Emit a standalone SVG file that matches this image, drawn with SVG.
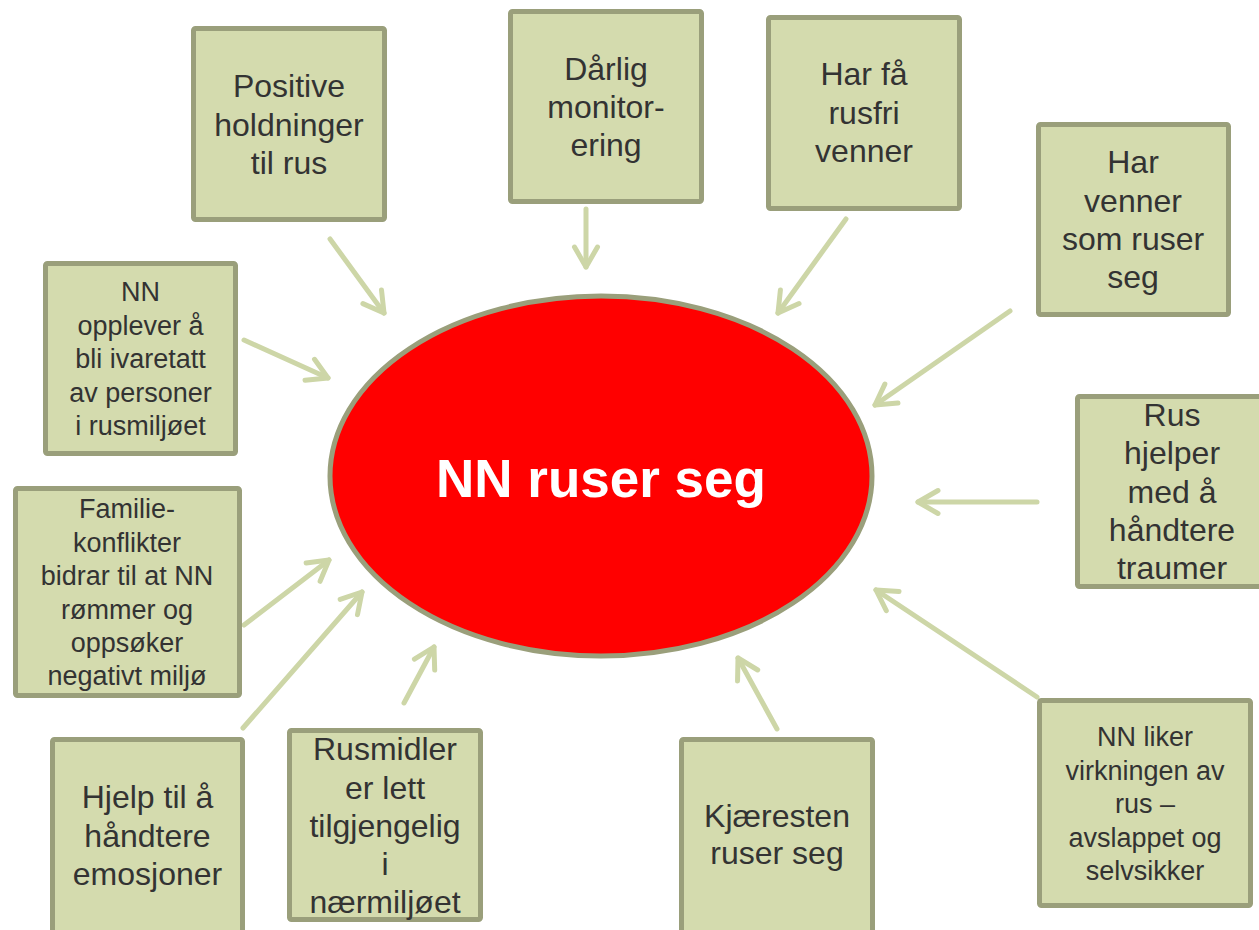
<svg xmlns="http://www.w3.org/2000/svg" width="1259" height="930" viewBox="0 0 1259 930">
<style>
.box{fill:#d4dbae;stroke:#9a9f7b;stroke-width:5}
.t{font-family:"Liberation Sans",Arial,sans-serif;fill:#333333;text-anchor:middle}
.l{font-size:32px}
.s{font-size:27px}
.arr{fill:none;stroke:#cdd6a7;stroke-width:5;stroke-linecap:round;marker-end:url(#ah)}
</style>
<defs>
<marker id="ah" markerUnits="userSpaceOnUse" markerWidth="40" markerHeight="40" viewBox="-25 -20 30 40" refX="0" refY="0" orient="auto" overflow="visible">
<path d="M-20,-11.5 L0,0 L-20,11.5" fill="none" stroke="#cdd6a7" stroke-width="5" stroke-linecap="round" stroke-linejoin="round"/>
</marker>
</defs>
<rect width="1259" height="930" fill="#ffffff"/>
<g id="connectors">
<line class="arr" x1="330" y1="239" x2="384" y2="313"/>
<line class="arr" x1="586" y1="209" x2="586" y2="267"/>
<line class="arr" x1="846" y1="219" x2="778" y2="313"/>
<line class="arr" x1="1010" y1="311" x2="875" y2="405"/>
<line class="arr" x1="244" y1="340" x2="328" y2="378"/>
<line class="arr" x1="1037" y1="502" x2="918" y2="502"/>
<line class="arr" x1="244" y1="625" x2="329" y2="560"/>
<line class="arr" x1="243" y1="728" x2="362" y2="592"/>
<line class="arr" x1="404" y1="703" x2="434" y2="647"/>
<line class="arr" x1="777" y1="729" x2="738" y2="658"/>
<line class="arr" x1="1037" y1="697" x2="876" y2="590"/>
</g>
<g id="center">
<ellipse cx="601" cy="476" rx="271" ry="180" fill="#ff0000" stroke="#9a9f7b" stroke-width="5"/>
<text x="601" y="497" font-family="Liberation Sans,Arial,sans-serif" font-weight="bold" font-size="53" fill="#ffffff" text-anchor="middle">NN ruser seg</text>
</g>
<g id="n1">
<rect class="box" x="193.5" y="28.5" width="191" height="191" rx="2"/>
<text class="t l"><tspan x="289" y="97">Positive</tspan><tspan x="289" y="135.5">holdninger</tspan><tspan x="289" y="174">til rus</tspan></text>
</g>
<g id="n2">
<rect class="box" x="510.5" y="11.5" width="191" height="190" rx="2"/>
<text class="t l"><tspan x="606" y="80">Dårlig</tspan><tspan x="606" y="118">monitor-</tspan><tspan x="606" y="156">ering</tspan></text>
</g>
<g id="n3">
<rect class="box" x="768.5" y="17.5" width="191" height="191" rx="2"/>
<text class="t l"><tspan x="864" y="85">Har få</tspan><tspan x="864" y="124">rusfri</tspan><tspan x="864" y="162">venner</tspan></text>
</g>
<g id="n4">
<rect class="box" x="1038.5" y="124.5" width="190" height="190" rx="2"/>
<text class="t l"><tspan x="1133" y="173">Har</tspan><tspan x="1133" y="212">venner</tspan><tspan x="1133" y="250">som ruser</tspan><tspan x="1133" y="288">seg</tspan></text>
</g>
<g id="n5">
<rect class="box" x="45.5" y="263.5" width="190" height="190" rx="2"/>
<text class="t s"><tspan x="140.5" y="301">NN</tspan><tspan x="140.5" y="334.5">opplever å</tspan><tspan x="140.5" y="368">bli ivaretatt</tspan><tspan x="140.5" y="401.5">av personer</tspan><tspan x="140.5" y="435">i rusmiljøet</tspan></text>
</g>
<g id="n6">
<rect class="box" x="15.5" y="488.5" width="224" height="207" rx="2"/>
<text class="t s"><tspan x="127" y="518">Familie-</tspan><tspan x="127" y="551.5">konflikter</tspan><tspan x="127" y="585">bidrar til at NN</tspan><tspan x="127" y="618.5">rømmer og</tspan><tspan x="127" y="652">oppsøker</tspan><tspan x="127" y="685">negativt miljø</tspan></text>
</g>
<g id="n7">
<rect class="box" x="1077.5" y="396.5" width="190" height="190" rx="2"/>
<text class="t l"><tspan x="1172" y="426">Rus</tspan><tspan x="1172" y="464">hjelper</tspan><tspan x="1172" y="503">med å</tspan><tspan x="1172" y="541">håndtere</tspan><tspan x="1172" y="579">traumer</tspan></text>
</g>
<g id="n8">
<rect class="box" x="52.5" y="739.5" width="190" height="193" rx="2"/>
<text class="t l"><tspan x="147.5" y="808">Hjelp til å</tspan><tspan x="147.5" y="847">håndtere</tspan><tspan x="147.5" y="885">emosjoner</tspan></text>
</g>
<g id="n9">
<rect class="box" x="289.5" y="730.5" width="191" height="189" rx="2"/>
<text class="t l"><tspan x="385" y="760">Rusmidler</tspan><tspan x="385" y="799">er lett</tspan><tspan x="385" y="837">tilgjengelig</tspan><tspan x="385" y="875">i</tspan><tspan x="385" y="913">nærmiljøet</tspan></text>
</g>
<g id="n10">
<rect class="box" x="681.5" y="739.5" width="191" height="193" rx="2"/>
<text class="t l"><tspan x="777" y="827">Kjæresten</tspan><tspan x="777" y="864">ruser seg</tspan></text>
</g>
<g id="n11">
<rect class="box" x="1039.5" y="700.5" width="211" height="205" rx="2"/>
<text class="t s"><tspan x="1145" y="746">NN liker</tspan><tspan x="1145" y="779.5">virkningen av</tspan><tspan x="1145" y="813">rus –</tspan><tspan x="1145" y="846.5">avslappet og</tspan><tspan x="1145" y="880">selvsikker</tspan></text>
</g>
</svg>
